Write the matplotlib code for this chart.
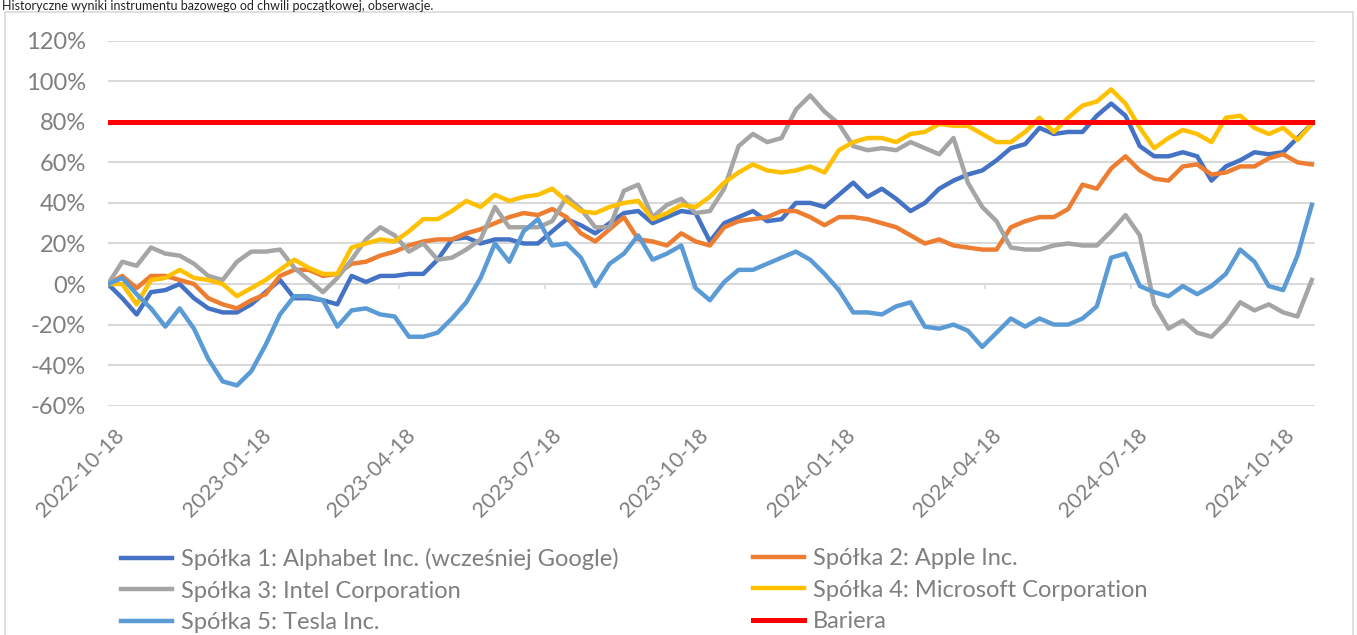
import numpy as np
import pandas as pd
import matplotlib
matplotlib.use("Agg")
import matplotlib.pyplot as plt
import matplotlib.transforms as mtransforms
from matplotlib.lines import Line2D
from matplotlib.patches import Rectangle
from matplotlib.ticker import FuncFormatter

plt.rcParams['font.family'] = ['Lato', 'DejaVu Sans']

# values in % versus the start date, every 9 days
dates = pd.date_range('2022-10-18', '2024-11-08', periods=85)

alphabet = [0, -7, -15, -4, -3, 0, -7, -12, -14, -14, -10, -4, 2, -7, -7, -8, -10,
            4, 1, 4, 4, 5, 5, 12, 22, 23, 20, 22, 22, 20, 20, 26, 32, 29,
            25, 30, 35, 36, 30, 33, 36, 35, 21, 30, 33, 36, 31, 32, 40, 40, 38, 44,
            50, 43, 47, 42, 36, 40, 47, 51, 54, 56, 61, 67, 69, 77, 74, 75,
            75, 83, 89, 83, 68, 63, 63, 65, 63, 51, 58, 61, 65, 64, 65, 72, 79]
apple = [0, 4, -2, 4, 4, 2, 0, -7, -10, -12, -8, -5, 4, 7, 7, 4, 5,
         10, 11, 14, 16, 19, 21, 22, 22, 25, 27, 30, 33, 35, 34, 37, 33, 25,
         21, 27, 33, 22, 21, 19, 25, 21, 19, 28, 31, 32, 33, 36, 36, 33, 29, 33,
         33, 32, 30, 28, 24, 20, 22, 19, 18, 17, 17, 28, 31, 33, 33, 37,
         49, 47, 57, 63, 56, 52, 51, 58, 59, 54, 55, 58, 58, 62, 64, 60, 59]
intel = [0, 11, 9, 18, 15, 14, 10, 4, 2, 11, 16, 16, 17, 8, 2, -4, 3,
         12, 22, 28, 24, 16, 20, 12, 13, 17, 22, 38, 28, 28, 28, 31, 43, 37,
         28, 28, 46, 49, 33, 39, 42, 35, 36, 47, 68, 74, 70, 72, 86, 93, 85, 79,
         68, 66, 67, 66, 70, 67, 64, 72, 50, 38, 31, 18, 17, 17, 19, 20,
         19, 19, 26, 34, 24, -10, -22, -18, -24, -26, -19, -9, -13, -10, -14, -16, 2]
microsoft = [0, 0, -10, 2, 3, 7, 3, 2, 0, -6, -2, 2, 7, 12, 8, 5, 5,
             18, 20, 22, 21, 26, 32, 32, 36, 41, 38, 44, 41, 43, 44, 47, 41, 36,
             35, 38, 40, 41, 32, 35, 39, 38, 43, 50, 55, 59, 56, 55, 56, 58, 55, 66,
             70, 72, 72, 70, 74, 75, 79, 78, 78, 74, 70, 70, 75, 82, 75, 82,
             88, 90, 96, 89, 77, 67, 72, 76, 74, 70, 82, 83, 77, 74, 77, 71, 79]
tesla = [0, 3, -5, -12, -21, -12, -22, -37, -48, -50, -43, -30, -15, -6, -6, -8, -21,
         -13, -12, -15, -16, -26, -26, -24, -17, -9, 3, 20, 11, 26, 32, 19, 20, 13,
         -1, 10, 15, 24, 12, 15, 19, -2, -8, 1, 7, 7, 10, 13, 16, 12, 5, -3,
         -14, -14, -15, -11, -9, -21, -22, -20, -23, -31, -24, -17, -21, -17, -20, -20,
         -17, -11, 13, 15, -1, -4, -6, -1, -5, -1, 5, 17, 11, -1, -3, 14, 39]
barrier = [80] * len(dates)

names = ['Spółka 1: Alphabet Inc. (wcześniej Google)', 'Spółka 2: Apple Inc.',
         'Spółka 3: Intel Corporation', 'Spółka 4: Microsoft Corporation',
         'Spółka 5: Tesla Inc.', 'Bariera']
colors = ['#4472C4', '#ED7D31', '#A5A5A5', '#FFC000', '#5B9BD5', '#FF0000']
tick_dates = pd.to_datetime(['2022-10-18', '2023-01-18', '2023-04-18', '2023-07-18',
                             '2023-10-18', '2024-01-18', '2024-04-18', '2024-07-18',
                             '2024-10-18'])
y_ticks = list(range(-60, 121, 20))
title = 'Historyczne wyniki instrumentu bazowego od chwili początkowej, obserwacje.'

W, H = 1357, 635
fig = plt.figure(figsize=(W / 100, H / 100), dpi=100)
fig.patches.append(Rectangle((5 / W, -0.05), 1348 / W, 1.05 - 12 / H,
                             transform=fig.transFigure, fill=False,
                             edgecolor='#D9D9D9', lw=1.2))
fig.text(2 / W, 1 - 10 / H, title, fontsize=9, color='#222222', va='baseline')

ax = fig.add_axes([108 / W, 1 - 405.7 / H, (1315 - 108) / W, (405.7 - 40.7) / H])

series = [alphabet, apple, intel, microsoft, tesla]
for vals, col, name in zip(series, colors, names):
    ax.plot(dates, vals, color=col, lw=3.2, label=name, solid_joinstyle='round')
ax.plot(dates, barrier, color=colors[5], lw=3.6, label=names[5])

ax.set_ylim(-60, 120)
ax.set_xlim(dates[0], dates[-1] + pd.Timedelta(days=2))
ax.set_yticks(y_ticks)
ax.yaxis.set_major_formatter(FuncFormatter(lambda v, p: f'{v:.0f}%'))
ax.grid(axis='y', color='#D9D9D9', lw=1.5)
ax.set_axisbelow(True)
for s in ax.spines.values():
    s.set_visible(False)

# small tick marks where the date axis crosses 0%
ax.vlines(tick_dates, -2.5, 0, color='#D9D9D9', lw=1.2, zorder=0.5)

ax.set_xticks(tick_dates)
ax.set_xticklabels([d.strftime('%Y-%m-%d') for d in tick_dates])
ax.tick_params(axis='y', length=0, pad=16, labelsize=17, labelcolor='#7F7F7F')
ax.tick_params(axis='x', length=0, pad=14, labelsize=15.5, labelcolor='#7F7F7F')
offset = mtransforms.ScaledTranslation(6 / 100, 0, fig.dpi_scale_trans)
for lab in ax.get_xticklabels():
    lab.set_rotation(45)
    lab.set_ha('right')
    lab.set_va('top')
    lab.set_rotation_mode('anchor')
    lab.set_transform(lab.get_transform() + offset)

handles = [Line2D([], [], color=c, lw=3.6 if i == 5 else 3.2) for i, c in enumerate(colors)]
leg_kw = dict(frameon=False, fontsize=17, labelcolor='#7F7F7F', handlelength=2.15,
              handletextpad=0.38, labelspacing=0.45, borderpad=0, borderaxespad=0,
              loc='upper left')
leg1 = fig.legend([handles[0], handles[2], handles[4]], [names[0], names[2], names[4]],
                  bbox_to_anchor=(121 / W, 1 - 548 / H), **leg_kw)
leg2 = fig.legend([handles[1], handles[3], handles[5]], [names[1], names[3], names[5]],
                  bbox_to_anchor=(753 / W, 1 - 548 / H), **leg_kw)

fig.savefig('out.png', dpi=100)
